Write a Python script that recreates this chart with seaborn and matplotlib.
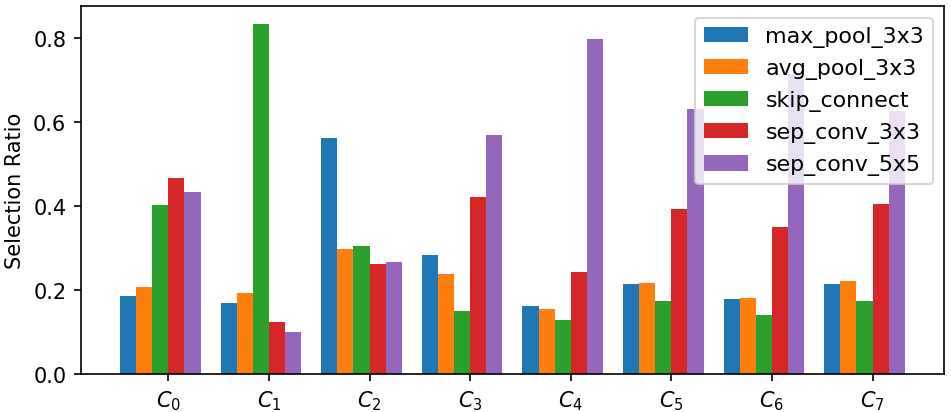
import numpy as np
import pandas as pd
import seaborn as sns
import matplotlib
matplotlib.use("Agg")
import matplotlib.pyplot as plt

# cells and candidate operations
cells = [r"$C_{%d}$" % i for i in range(8)]
ops = ["max_pool_3x3", "avg_pool_3x3", "skip_connect", "sep_conv_3x3", "sep_conv_5x5"]

# selection ratios per operation, one value per cell
max_pool_3x3 = [0.186, 0.170, 0.563, 0.283, 0.162, 0.215, 0.178, 0.214]
avg_pool_3x3 = [0.207, 0.192, 0.297, 0.239, 0.154, 0.216, 0.180, 0.221]
skip_connect = [0.402, 0.833, 0.304, 0.150, 0.128, 0.175, 0.141, 0.175]
sep_conv_3x3 = [0.466, 0.125, 0.262, 0.421, 0.242, 0.394, 0.351, 0.405]
sep_conv_5x5 = [0.433, 0.100, 0.266, 0.568, 0.798, 0.630, 0.715, 0.625]

series = [max_pool_3x3, avg_pool_3x3, skip_connect, sep_conv_3x3, sep_conv_5x5]

n_ops = len(ops)
bar_w = 0.8 / n_ops
idx = np.arange(len(cells))

# long table; bars sit half a bar to the left of the tick, as in the original
rows = []
for op, vals in zip(ops, series):
    for i, v in enumerate(vals):
        rows.append({"pos": idx[i] - bar_w / 2, "op": op, "ratio": v})
df = pd.DataFrame(rows)

fig, ax = plt.subplots(figsize=(6.34, 2.753), dpi=150)

sns.barplot(data=df, x="pos", y="ratio", hue="op", hue_order=ops,
            palette=sns.color_palette("tab10", n_ops), saturation=1,
            native_scale=True, errorbar=None, width=0.8, linewidth=0, ax=ax)

ax.set_xticks(idx)
ax.set_xticklabels(cells)
ax.set_xlabel("")
ax.set_ylabel("Selection Ratio")
ax.set_xlim(-0.48 - 0.39, 7.32 + 0.39)
ax.set_ylim(0, 0.875)
ax.set_yticks([0.0, 0.2, 0.4, 0.6, 0.8])

handles, labels = ax.get_legend_handles_labels()
ax.legend(handles, labels, loc="upper right", fontsize=10.6)

for s in ax.spines.values():
    s.set_visible(True)
    s.set_color("black")

fig.subplots_adjust(left=0.085, right=0.9926, top=0.982, bottom=0.092)
fig.savefig("out.png", dpi=150)
